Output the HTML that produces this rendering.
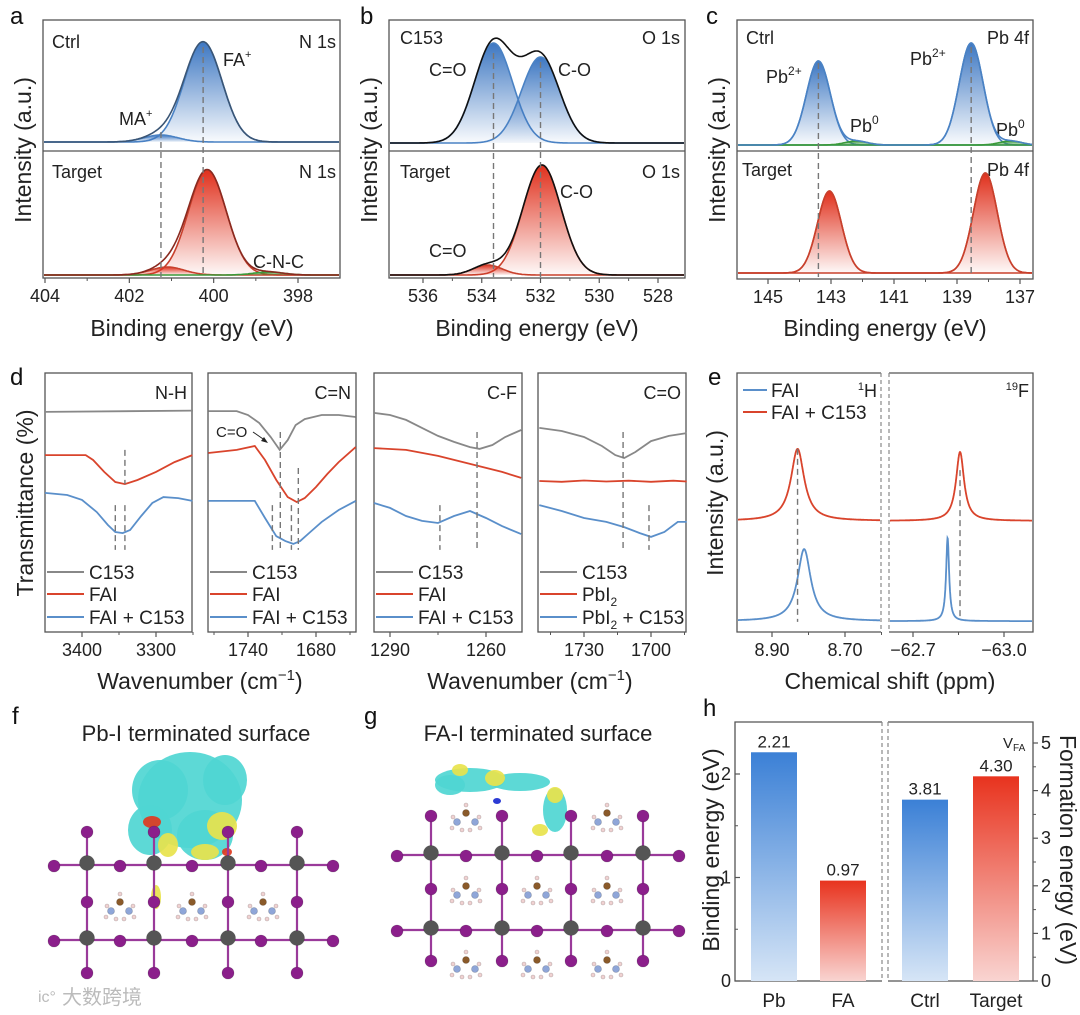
<!DOCTYPE html>
<html><head><meta charset="utf-8">
<style>
html,body{margin:0;padding:0;background:#fff;}
svg{display:block;font-family:"Liberation Sans","Noto Sans CJK SC",sans-serif;}
</style></head>
<body>
<svg id="fig" width="1080" height="1015" viewBox="0 0 1080 1015" xmlns="http://www.w3.org/2000/svg">
<defs>
<linearGradient id="gB" x1="0" y1="0" x2="0" y2="1"><stop offset="0" stop-color="#3d77c2"/><stop offset="1" stop-color="#3d77c2" stop-opacity="0.03"/></linearGradient>
<linearGradient id="gR" x1="0" y1="0" x2="0" y2="1"><stop offset="0" stop-color="#e0301c"/><stop offset="1" stop-color="#e0301c" stop-opacity="0.03"/></linearGradient>
<linearGradient id="gG" x1="0" y1="0" x2="0" y2="1"><stop offset="0" stop-color="#3a9a3a"/><stop offset="1" stop-color="#3a9a3a" stop-opacity="0.2"/></linearGradient>
<linearGradient id="bB" x1="0" y1="0" x2="0" y2="1"><stop offset="0" stop-color="#3b80d6"/><stop offset="1" stop-color="#d6e5f6"/></linearGradient>
<linearGradient id="bR" x1="0" y1="0" x2="0" y2="1"><stop offset="0" stop-color="#e8331e"/><stop offset="1" stop-color="#f9d4d1"/></linearGradient>
</defs>

<g font-size="24" fill="#111">
<text x="10" y="24">a</text>
<text x="360" y="24">b</text>
<text x="706" y="24">c</text>
<text x="10" y="385">d</text>
<text x="708" y="385">e</text>
<text x="12" y="724">f</text>
<text x="364" y="724">g</text>
<text x="703" y="716">h</text>
</g>

<g fill="none" stroke="#555" stroke-width="1.3">
<rect x="43" y="20" width="297" height="258"/>
<line x1="43" y1="151" x2="340" y2="151"/>
<rect x="389" y="20" width="296" height="258"/>
<line x1="389" y1="151" x2="685" y2="151"/>
<rect x="737" y="20" width="296" height="259"/>
<line x1="737" y1="151" x2="1033" y2="151"/>
<rect x="45" y="373" width="147" height="259"/>
<rect x="208" y="373" width="148" height="259"/>
<rect x="374" y="373" width="148" height="259"/>
<rect x="538" y="373" width="148" height="259"/>
<path d="M881,373 H737 V632 H881"/>
<path d="M889,373 H1033 V632 H889"/>
<path d="M882,722 H735 V981 H882"/>
<path d="M888,722 H1033 V981 H888"/>
</g>
<g stroke="#888" stroke-width="1.2" stroke-dasharray="4,3">
<line x1="881" y1="373" x2="881" y2="632"/>
<line x1="889" y1="373" x2="889" y2="632"/>
<line x1="882" y1="722" x2="882" y2="981"/>
<line x1="888" y1="722" x2="888" y2="981"/>
</g>

<g font-size="23" fill="#222" text-anchor="middle">
<text transform="translate(31,150) rotate(-90)">Intensity (a.u.)</text>
<text transform="translate(377,150) rotate(-90)">Intensity (a.u.)</text>
<text transform="translate(725,150) rotate(-90)">Intensity (a.u.)</text>
<text x="192" y="336">Binding energy (eV)</text>
<text x="537" y="336">Binding energy (eV)</text>
<text x="885" y="336">Binding energy (eV)</text>
<text transform="translate(33,503) rotate(-90)">Transmittance (%)</text>
<text x="200" y="689">Wavenumber (cm<tspan font-size="15" dy="-9">−1</tspan><tspan dy="9">)</tspan></text>
<text x="530" y="689">Wavenumber (cm<tspan font-size="15" dy="-9">−1</tspan><tspan dy="9">)</tspan></text>
<text transform="translate(723,503) rotate(-90)">Intensity (a.u.)</text>
<text x="890" y="689">Chemical shift (ppm)</text>
<text transform="translate(719,850) rotate(-90)">Binding energy (eV)</text>
<text transform="translate(1060,850) rotate(90)">Formation energy (eV)</text>
<text x="196" y="741" font-size="22">Pb-I terminated surface</text>
<text x="538" y="741" font-size="22">FA-I terminated surface</text>
</g>

<g font-size="18" fill="#222">
<text x="52" y="48">Ctrl</text>
<text x="336" y="48" text-anchor="end">N 1s</text>
<text x="223" y="66">FA<tspan font-size="11" dy="-8">+</tspan></text>
<text x="119" y="125">MA<tspan font-size="11" dy="-8">+</tspan></text>
<text x="52" y="178">Target</text>
<text x="336" y="178" text-anchor="end">N 1s</text>
<text x="253" y="268">C-N-C</text>
<text x="400" y="44">C153</text>
<text x="680" y="44" text-anchor="end">O 1s</text>
<text x="429" y="76">C=O</text>
<text x="558" y="76">C-O</text>
<text x="400" y="178">Target</text>
<text x="680" y="178" text-anchor="end">O 1s</text>
<text x="560" y="198">C-O</text>
<text x="429" y="257">C=O</text>
<text x="746" y="44">Ctrl</text>
<text x="1029" y="44" text-anchor="end">Pb 4f</text>
<text x="766" y="83">Pb<tspan font-size="12" dy="-8">2+</tspan></text>
<text x="850" y="132">Pb<tspan font-size="12" dy="-8">0</tspan></text>
<text x="910" y="65">Pb<tspan font-size="12" dy="-8">2+</tspan></text>
<text x="996" y="136">Pb<tspan font-size="12" dy="-8">0</tspan></text>
<text x="742" y="176">Target</text>
<text x="1029" y="176" text-anchor="end">Pb 4f</text>
<text x="187" y="399" text-anchor="end">N-H</text>
<text x="351" y="399" text-anchor="end">C=N</text>
<text x="517" y="399" text-anchor="end">C-F</text>
<text x="681" y="399" text-anchor="end">C=O</text>
<text x="877" y="397" text-anchor="end"><tspan font-size="11" dy="-7">1</tspan><tspan dy="7">H</tspan></text>
<text x="1029" y="397" text-anchor="end"><tspan font-size="11" dy="-7">19</tspan><tspan dy="7">F</tspan></text>
<text x="216" y="437" font-size="15">C=O</text>
<text x="1003" y="748" font-size="15">V<tspan font-size="10" dy="3">FA</tspan></text>
</g>
<line x1="253" y1="432" x2="266" y2="441" stroke="#222" stroke-width="1"/>
<path d="M268,443 L261,441 L264,437 Z" fill="#222"/>

<g id="plots"></g>
<g id="struct"></g>
<text x="62" y="1004" font-size="20" fill="#bbb" font-family="Liberation Sans,Noto Sans CJK SC,sans-serif">大数跨境</text>
<text x="38" y="1002" font-size="16" fill="#bbb">ic°</text>

<script>
// ---------- DATA ----------
const aCtrlCenters=[400.25,401.25];
const aCtrlAmps=[100,7];
const aCtrlSig=[0.45,0.4];
const aTgtCenters=[400.15,401.1,398.7];
const aTgtAmps=[105,8,3];
const aTgtSig=[0.45,0.4,0.35];
const aTicks=[404,402,400,398];
const aMinor=[403,401,399];
const bC153Centers=[533.6,532.0];
const bC153Amps=[100,86];
const bC153Sig=[0.65,0.65];
const bTgtCenters=[531.95,533.8];
const bTgtAmps=[110,10];
const bTgtSig=[0.65,0.5];
const bTicks=[536,534,532,530,528];
const bMinor=[535,533,531,529];
const cCtrlCenters=[143.4,138.55,142.2,137.3];
const cCtrlAmps=[84,102,4,4];
const cCtrlSig=[0.38,0.38,0.35,0.35];
const cTgtCenters=[143.05,138.1];
const cTgtAmps=[82,100];
const cTgtSig=[0.38,0.38];
const cTicks=[145,143,141,139,137];
const cMinor=[144,142,140,138];
const d1C153wn=[3450,3250];
const d1C153v=[85,85.5];
const d1FAIwn=[3450,3395,3385,3370,3355,3342,3325,3300,3275,3251];
const d1FAIv=[68.3,68.3,66.4,61.8,57.9,57.1,58.7,61.8,65.6,68.3];
const d1Mixwn=[3450,3420,3400,3380,3365,3355,3345,3335,3320,3305,3290,3270,3251];
const d1Mixv=[53.7,52.9,51,46.3,41.3,38.6,38.2,39.4,44.8,49.8,52.1,51.7,50.6];
const d2C153wn=[1775,1750,1740,1730,1720,1712,1705,1698,1690,1675,1660,1645];
const d2C153v=[85.3,85.3,83.8,80.7,75.3,70.3,74.1,79.9,82.2,83.8,83.8,83];
const d2FAIwn=[1775,1750,1734,1725,1715,1705,1697,1690,1680,1670,1660,1645];
const d2FAIv=[69.1,70.3,71.8,66.4,58.7,52.1,50.2,51.7,56,61,65.6,71.4];
const d2Mixwn=[1775,1734,1725,1715,1707,1700,1694,1685,1675,1660,1645];
const d2Mixv=[50.6,50.6,44,37,35.1,34,35.1,38.6,42.5,47.1,50.6];
const d3C153wn=[1295,1290,1285,1280,1275,1270,1265,1262,1258,1254,1249];
const d3C153v=[84.6,83.8,81.9,78.8,75.7,73.4,71.4,70.7,72.2,75.3,78];
const d3FAIwn=[1295,1285,1275,1265,1255,1249];
const d3FAIv=[71,70.3,68,64.9,61.8,59.5];
const d3Mixwn=[1295,1290,1285,1280,1275,1270,1265,1260,1255,1249];
const d3Mixv=[49.8,47.9,44.8,42.9,42.1,44.8,46.7,44,40.9,37.8];
const d4C153wn=[1750,1740,1730,1722,1716,1712,1707,1700,1692,1684];
const d4C153v=[78.8,77.6,75.3,71.8,68.3,67.2,69.5,73.7,75.7,76.8];
const d4PbIwn=[1750,1740,1730,1720,1710,1700,1690,1684];
const d4PbIv=[58.3,58.0,58.5,58.1,58.4,58.0,58.4,58.1];
const d4Mixwn=[1750,1740,1730,1720,1712,1705,1700,1694,1688,1684];
const d4Mixv=[49,46.7,44,42.5,40.5,38.2,36.7,38.6,42.5,42.5];
const d1Dash=[[3342,70.3,57.1],[3355,49,31.7],[3342,49,31.7]];
const d2Dash=[[1711.5,77.2,31.7],[1695.6,63.3,31.7],[1718.5,49,31.7],[1701.7,49,31.7]];
const d3Dash=[[1262.8,77.2,31.7],[1274.4,49,31.7]];
const d4Dash=[[1712.5,77.2,31.7],[1700.9,49,31.7]];
const d1Ticks=[3400,3300], d1Minor=[3350,3250];
const d2Ticks=[1740,1680], d2Minor=[1770,1710,1650];
const d3Ticks=[1290,1260], d3Minor=[1275];
const d4Ticks=[1730,1700], d4Minor=[1745,1715,1685];
const eHCenters=[8.83,8.812];
const eHAmps=[27.8,27.8];
const eHWidth=[0.022,0.022];
const eFCenters=[-62.855,-62.814];
const eFAmps=[26.6,32.1];
const eFWidth=[0.016,0.006];
const eBase=[42.9,4.2];
const eHTicks=[8.90,8.70], eHMinor=[8.80,8.60];
const eHLabels=['8.90','8.70'];
const eFTicks=[-62.7,-63.0], eFMinor=[-62.85];
const eFLabels=['\u221262.7','\u221263.0'];
const hCats1=['Pb','FA'];
const hVals1=[2.21,0.97];
const hCats2=['Ctrl','Target'];
const hVals2=[3.81,4.30];
const hLeftTicks=[0,1,2];
const hLeftMinor=[0.5,1.5];
const hRightTicks=[0,1,2,3,4,5];
const hRightMinor=[0.5,1.5,2.5,3.5,4.5];

// ---------- helpers ----------
const NS='http://www.w3.org/2000/svg';
const P=document.getElementById('plots');
function mk(tag,attrs,parent){const e=document.createElementNS(NS,tag);for(const k in attrs)e.setAttribute(k,attrs[k]);(parent||P).appendChild(e);return e;}
function lin(d0,d1,p0,p1){const f=v=>p0+(v-d0)*(p1-p0)/(d1-d0);f.inv=p=>d0+(p-p0)*(d1-d0)/(p1-p0);return f;}
function gauss(x,c,a,s){return a*Math.exp(-(x-c)*(x-c)/(2*s*s));}
function lor(x,c,a,w){return a/(1+((x-c)/w)*((x-c)/w));}
function pathFrom(xs,ys){return xs.map((x,i)=>(i?'L':'M')+x.toFixed(1)+','+ys[i].toFixed(1)).join('');}

function xTicks(xf,majors,minors,yb,labels,name){
  majors.forEach((t,i)=>{
    const l=mk('line',{x1:xf(t),x2:xf(t),y1:yb,y2:yb+5,stroke:'#555','stroke-width':1.2});
    
    
    const tx=mk('text',{x:xf(t),y:yb+24,'font-size':18,'text-anchor':'middle',fill:'#222'});
    tx.textContent=labels?labels[i]:String(t);
    
    
  });
  minors.forEach(t=>{
    const l=mk('line',{x1:xf(t),x2:xf(t),y1:yb,y2:yb+3,stroke:'#555','stroke-width':1});
    
    
  });
}

function xps(xf,pxL,pxR,base,centers,amps,sigs,fills,strokes,env,name){
  const xs=[],es=[];
  for(let p=pxL;p<=pxR;p+=1){xs.push(p);es.push(xf.inv(p));}
  const yf=v=>base-v;
  const total=es.map(()=>0);
  centers.forEach((c,k)=>{
    const ys=es.map((e,i)=>{const g=gauss(e,c,amps[k],sigs[k]);total[i]+=g;return yf(g);});
    const f=mk('path',{d:pathFrom(xs,ys)+'L'+pxR+','+base+'L'+pxL+','+base+'Z',fill:fills[k],stroke:'none'});
    
    
    const s=mk('path',{d:pathFrom(xs,ys),fill:'none',stroke:strokes[k],'stroke-width':1.6});
    
    
  });
  const ev=mk('path',{d:pathFrom(xs,total.map(yf)),fill:'none',stroke:env,'stroke-width':1.6});
  
  
}
function vdash(x,y1,y2,name){
  const l=mk('line',{x1:x,x2:x,y1:y1,y2:y2,stroke:'#777','stroke-width':1.4,'stroke-dasharray':'6,4'});
  
  
}

const xA=lin(404,398,45,298);
xps(xA,44,339,142,aCtrlCenters,aCtrlAmps,aCtrlSig,['url(#gB)','url(#gB)'],['#4a82c4','#4a82c4'],'#3a5575','ctrl-n1s');
xps(xA,44,339,275,aTgtCenters,aTgtAmps,aTgtSig,['url(#gR)','url(#gR)','url(#gG)'],['#c8402c','#c8402c','#3a9a3a'],'#8a2a20','target-n1s');
vdash(xA(aCtrlCenters[0]),47,277,'ref-line-fa');
vdash(xA(aCtrlCenters[1]),132,277,'ref-line-ma');
xTicks(xA,aTicks,aMinor,278,null,'x-axis-a');

const xB=lin(536,528,423,658);
xps(xB,390,684,143,bC153Centers,bC153Amps,bC153Sig,['url(#gB)','url(#gB)'],['#4a82c4','#4a82c4'],'#111','c153-o1s');
xps(xB,390,684,275,bTgtCenters,bTgtAmps,bTgtSig,['url(#gR)','url(#gR)'],['#c8402c','#c8402c'],'#111','target-o1s');
vdash(xB(bC153Centers[0]),53,277,'ref-line-c-double-o');
vdash(xB(bC153Centers[1]),62,277,'ref-line-c-o');
xTicks(xB,bTicks,bMinor,278,null,'x-axis-b');

const xC=lin(145,137,768,1020);
xps(xC,738,1032,145,cCtrlCenters,cCtrlAmps,cCtrlSig,['url(#gB)','url(#gB)','url(#gG)','url(#gG)'],['#4a82c4','#4a82c4','#3a9a3a','#3a9a3a'],'#4a82c4','ctrl-pb4f');
xps(xC,738,1032,273,cTgtCenters,cTgtAmps,cTgtSig,['url(#gR)','url(#gR)'],['#c8402c','#c8402c'],'#c8402c','target-pb4f');
vdash(xC(cCtrlCenters[0]),63,277,'ref-line-pb-left');
vdash(xC(cCtrlCenters[1]),47,277,'ref-line-pb-right');
xTicks(xC,cTicks,cMinor,279,null,'x-axis-c');

const yD=v=>632-v*2.59;
function ftir(xf,sets,dashes,ticks,minor,legend,name){
  const cols=['#888','#d9442c','#5a8fca'];
  sets.forEach((s,k)=>{
    const p=mk('path',{d:pathFrom(s[0].map(xf),s[1].map(yD)),fill:'none',stroke:cols[k],'stroke-width':1.8});
    
    
  });
  dashes.forEach(d=>vdash(xf(d[0]),yD(d[1]),yD(d[2]),name+'-ref-line'));
  xTicks(xf,ticks,minor,632,null,name+'-x-axis');
  legend.forEach((t,k)=>{
    const yy=[572,594,617][k];
    const l=mk('line',{x1:xf.left+2,x2:xf.left+39,y1:yy,y2:yy,stroke:cols[k],'stroke-width':2});
    
    
    const tx=mk('text',{x:xf.left+44,y:yy+7,'font-size':19,fill:'#222'});
    
    
    if(t.indexOf('PbI2')===0){
      const a=mk('tspan',{},tx); a.textContent='PbI';
      const b=mk('tspan',{'font-size':12,dy:5},tx); b.textContent='2';
      if(t.length>4){const c=mk('tspan',{dy:-5},tx); c.textContent=' + C153';}
    } else tx.textContent=t;
  });
}
const xD1=lin(3400,3300,82,156); xD1.left=45;
const xD2=lin(1740,1680,248,316); xD2.left=208;
const xD3=lin(1290,1260,390,486); xD3.left=374;
const xD4=lin(1730,1700,584,651); xD4.left=538;
ftir(xD1,[[d1C153wn,d1C153v],[d1FAIwn,d1FAIv],[d1Mixwn,d1Mixv]],d1Dash,d1Ticks,d1Minor,['C153','FAI','FAI + C153'],'ftir-nh');
ftir(xD2,[[d2C153wn,d2C153v],[d2FAIwn,d2FAIv],[d2Mixwn,d2Mixv]],d2Dash,d2Ticks,d2Minor,['C153','FAI','FAI + C153'],'ftir-cn');
ftir(xD3,[[d3C153wn,d3C153v],[d3FAIwn,d3FAIv],[d3Mixwn,d3Mixv]],d3Dash,d3Ticks,d3Minor,['C153','FAI','FAI + C153'],'ftir-cf');
ftir(xD4,[[d4C153wn,d4C153v],[d4PbIwn,d4PbIv],[d4Mixwn,d4Mixv]],d4Dash,d4Ticks,d4Minor,['C153','PbI2','PbI2 + C153'],'ftir-co');

const xEH=lin(8.90,8.70,772,845);
const xEF=lin(-62.7,-63.0,913,1004);
const eCols=['#d9442c','#5a8fca'];
function nmr(xf,pL,pR,centers,amps,widths,name){
  centers.forEach((c,k)=>{
    const xs=[],ys=[];
    for(let p=pL;p<=pR;p+=0.25){xs.push(p);ys.push(yD(eBase[k]+lor(xf.inv(p),c,amps[k],widths[k])));}
    const l=mk('path',{d:pathFrom(xs,ys),fill:'none',stroke:eCols[k],'stroke-width':1.8});
    
    
  });
}
nmr(xEH,738,880,eHCenters,eHAmps,eHWidth,'nmr-1h');
nmr(xEF,890,1032,eFCenters,eFAmps,eFWidth,'nmr-19f');
vdash(xEH(eHCenters[0]),yD(eBase[0]+eHAmps[0]),yD(3.9),'nmr-1h-ref-line');
vdash(xEF(eFCenters[0]),yD(62.5),yD(4.6),'nmr-19f-ref-line');
xTicks(xEH,eHTicks,eHMinor,632,eHLabels,'x-axis-e-1h');
xTicks(xEF,eFTicks,eFMinor,632,eFLabels,'x-axis-e-19f');
[['FAI',390,1],['FAI + C153',412,0]].forEach(r=>{
  const l=mk('line',{x1:743,x2:767,y1:r[1],y2:r[1],stroke:eCols[r[2]],'stroke-width':2});
  
  
  const t=mk('text',{x:771,y:r[1]+7,'font-size':19,fill:'#222'});
  t.textContent=r[0];
  
  
});

const yHL=lin(0,2,981,774);
const yHR=lin(0,5,981,743);
const hX1=[774,843], hX2=[925,996], bw=46;
function bars(cats,vals,xc,yf,fills){
  cats.forEach((c,i)=>{
    const r=mk('rect',{x:xc[i]-bw/2,y:yf(vals[i]),width:bw,height:yf(0)-yf(vals[i]),fill:fills[i]});
    
    
    const v=mk('text',{x:xc[i],y:yf(vals[i])-5,'font-size':17,'text-anchor':'middle',fill:'#222'});
    v.textContent=vals[i].toFixed(2);
    
    
    const t=mk('text',{x:xc[i],y:1007,'font-size':19,'text-anchor':'middle',fill:'#222'});
    t.textContent=c;
    
    
  });
}
bars(hCats1,hVals1,hX1,yHL,['url(#bB)','url(#bR)']);
bars(hCats2,hVals2,hX2,yHR,['url(#bB)','url(#bR)']);
hLeftTicks.forEach(t=>{
  const l=mk('line',{x1:735,x2:740,y1:yHL(t),y2:yHL(t),stroke:'#555','stroke-width':1.2});
  
  
  const tx=mk('text',{x:731,y:yHL(t)+6,'font-size':18,'text-anchor':'end',fill:'#222'});
  tx.textContent=String(t);
  
  
});
hLeftMinor.forEach(t=>{
  const l=mk('line',{x1:735,x2:738,y1:yHL(t),y2:yHL(t),stroke:'#555','stroke-width':1});
  
  
});
hRightTicks.forEach(t=>{
  const l=mk('line',{x1:1033,x2:1038,y1:yHR(t),y2:yHR(t),stroke:'#555','stroke-width':1.2});
  
  
  const tx=mk('text',{x:1041,y:yHR(t)+6,'font-size':18,fill:'#222'});
  tx.textContent=String(t);
  
  
});
hRightMinor.forEach(t=>{
  const l=mk('line',{x1:1033,x2:1036,y1:yHR(t),y2:yHR(t),stroke:'#555','stroke-width':1});
  
  
});

const S=document.getElementById('struct');
function atom(x,y,r,fill,name){
  const c=mk('circle',{cx:x,cy:y,r:r,fill:fill,stroke:'rgba(0,0,0,0.25)','stroke-width':0.6},S);
  
  
}
function bond(x1,y1,x2,y2){
  const l=mk('line',{x1:x1,y1:y1,x2:x2,y2:y2,stroke:'#9a3a9a','stroke-width':2.2},S);
  
  
}
function fa(x,y){
  atom(x-9,y+6,3.5,'#8fa6d8','fa-nitrogen');
  atom(x+9,y+6,3.5,'#8fa6d8','fa-nitrogen');
  atom(x,y-3,3.5,'#8a5a2a','fa-carbon');
  [[-14,12],[-4,14],[4,14],[14,12],[0,-11],[-13,1],[13,1]].forEach(h=>atom(x+h[0],y+h[1],2,'#f0d2d2','fa-hydrogen'));
}
function slab(cols,side,rows,pbRows,faRows){
  cols.forEach(x=>bond(x,rows[0],x,rows[rows.length-1]));
  pbRows.forEach(y=>bond(side[0],y+2,side[side.length-1],y+2));
  faRows.forEach(r=>r[1].forEach(x=>fa(x,r[0])));
  cols.forEach(x=>{
    rows.forEach(y=>{ if(pbRows.indexOf(y)>=0) atom(x,y,7.5,'#555','pb-atom'); else atom(x,y,6,'#8b1f8b','iodine-atom'); });
  });
  pbRows.forEach(y=>side.forEach(x=>atom(x,y+3,6,'#8b1f8b','iodine-atom')));
}
[['#4fd6d2',[[190,800,52,48],[160,790,28,30],[225,780,22,25],[150,830,22,25],[205,835,28,25]]],
 ['#e8e34c',[[222,826,15,14],[168,845,10,12],[205,852,14,8],[156,897,5,12]]],
 ['#e03a1f',[[152,822,9,6],[227,852,5,4]]]].forEach(g=>g[1].forEach(e=>{
  const el=mk('ellipse',{cx:e[0],cy:e[1],rx:e[2],ry:e[3],fill:g[0],opacity:0.92},S);
  
  
}));
slab([87,154,228,297],[54,120,192,261,333],[832,863,902,938,973],[863,938],[[905,[120,192,263]]]);
[['#4fd6d2',[[470,780,35,12],[520,782,30,9],[555,810,12,22],[450,785,15,10]]],
 ['#e8e34c',[[495,778,10,8],[555,795,8,8],[540,830,8,6],[460,770,8,6]]],
 ['#1a2ad0',[[497,801,4,3]]]].forEach(g=>g[1].forEach(e=>{
  const el=mk('ellipse',{cx:e[0],cy:e[1],rx:e[2],ry:e[3],fill:g[0],opacity:0.92},S);
  
  
}));
slab([431,502,571,643],[397,466,537,607,679],[816,853,889,928,961],[853,928],[[889,[466,537,607]],[963,[466,537,607]],[816,[466,607]]]);
</script>
</svg>
</body></html>
